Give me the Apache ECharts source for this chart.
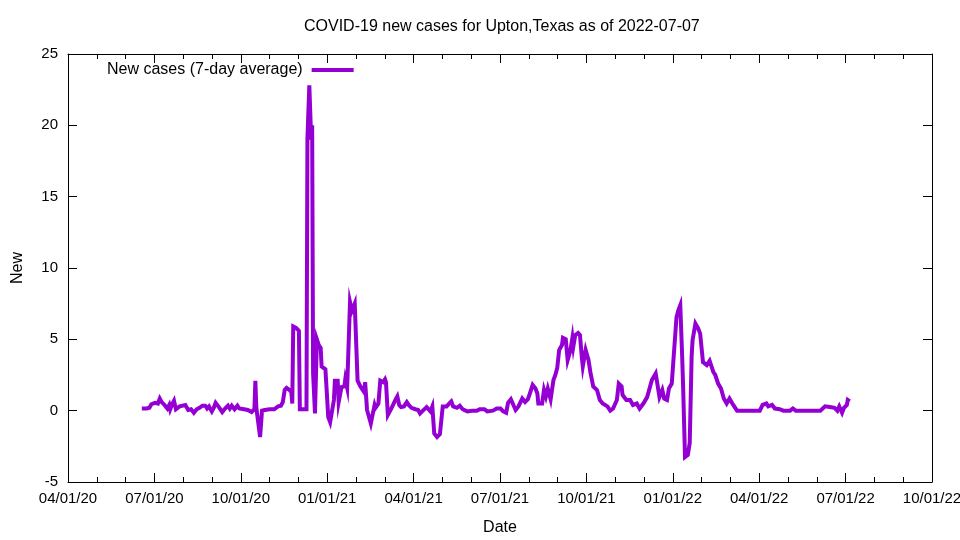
<!DOCTYPE html>
<html>
<head>
<meta charset="utf-8">
<script src="https://cdn.jsdelivr.net/npm/echarts@6/dist/echarts.min.js"></script>
<style>html,body{margin:0;padding:0;background:#fff}#c{width:960px;height:540px}</style>
</head>
<body>
<div id="c"></div>
<script>
const titleText = 'COVID-19 new cases for Upton,Texas as of 2022-07-07';
const seriesName = 'New cases (7-day average)';
const xTickLabels = ['04/01/20','07/01/20','10/01/20','01/01/21','04/01/21','07/01/21','10/01/21','01/01/22','04/01/22','07/01/22','10/01/22'];
const axisStart = '2020-04-01';
const axisEnd = '2022-10-01';
const dates = [
'2020-06-18','2020-06-23','2020-06-26','2020-06-28','2020-07-02','2020-07-05','2020-07-07','2020-07-09','2020-07-12','2020-07-15',
'2020-07-17','2020-07-18','2020-07-20','2020-07-22','2020-07-24','2020-07-26','2020-07-28','2020-07-30','2020-08-03','2020-08-06',
'2020-08-09','2020-08-12','2020-08-15','2020-08-18','2020-08-21','2020-08-24','2020-08-26','2020-08-28','2020-08-31','2020-09-02',
'2020-09-04','2020-09-08','2020-09-11','2020-09-14','2020-09-17','2020-09-19','2020-09-21','2020-09-24','2020-09-27','2020-09-29',
'2020-10-01','2020-10-04','2020-10-08','2020-10-12','2020-10-15','2020-10-16','2020-10-17','2020-10-19','2020-10-21','2020-10-23',
'2020-10-26','2020-10-31','2020-11-05','2020-11-09','2020-11-12','2020-11-14','2020-11-16','2020-11-18','2020-11-21','2020-11-23',
'2020-11-24','2020-11-25','2020-11-28','2020-12-01','2020-12-02','2020-12-09','2020-12-10','2020-12-12','2020-12-14','2020-12-15',
'2020-12-16','2020-12-18','2020-12-20','2020-12-22','2020-12-24','2020-12-25','2020-12-29','2020-12-30','2021-01-01','2021-01-03',
'2021-01-05','2021-01-07','2021-01-08','2021-01-11','2021-01-12','2021-01-15','2021-01-18','2021-01-19','2021-01-21','2021-01-23',
'2021-01-24','2021-01-26','2021-01-29','2021-01-31','2021-02-01','2021-02-04','2021-02-06','2021-02-08','2021-02-09','2021-02-11',
'2021-02-13','2021-02-15','2021-02-17','2021-02-19','2021-02-20','2021-02-23','2021-02-25','2021-02-28','2021-03-02','2021-03-03',
'2021-03-05','2021-03-07','2021-03-09','2021-03-13','2021-03-15','2021-03-17','2021-03-19','2021-03-22','2021-03-25','2021-03-27',
'2021-03-30','2021-04-03','2021-04-06','2021-04-08','2021-04-11','2021-04-15','2021-04-19','2021-04-21','2021-04-23','2021-04-26',
'2021-04-29','2021-05-01','2021-05-02','2021-05-06','2021-05-11','2021-05-13','2021-05-17','2021-05-20','2021-05-23','2021-05-28',
'2021-06-02','2021-06-07','2021-06-10','2021-06-15','2021-06-18','2021-06-24','2021-06-28','2021-07-02','2021-07-05','2021-07-08',
'2021-07-10','2021-07-13','2021-07-15','2021-07-18','2021-07-21','2021-07-25','2021-07-28','2021-07-31','2021-08-02','2021-08-05',
'2021-08-08','2021-08-10','2021-08-11','2021-08-15','2021-08-17','2021-08-19','2021-08-21','2021-08-24','2021-08-27','2021-08-29',
'2021-08-31','2021-09-02','2021-09-05','2021-09-06','2021-09-09','2021-09-11','2021-09-14','2021-09-16','2021-09-17','2021-09-19',
'2021-09-22','2021-09-24','2021-09-26','2021-09-27','2021-09-30','2021-10-03','2021-10-05','2021-10-08','2021-10-12','2021-10-15',
'2021-10-18','2021-10-23','2021-10-26','2021-10-29','2021-11-02','2021-11-04','2021-11-07','2021-11-08','2021-11-12','2021-11-14',
'2021-11-16','2021-11-19','2021-11-21','2021-11-23','2021-11-26','2021-11-30','2021-12-04','2021-12-06','2021-12-09','2021-12-11',
'2021-12-13','2021-12-14','2021-12-17','2021-12-20','2021-12-22','2021-12-25','2021-12-27','2021-12-30','2022-01-01','2022-01-04',
'2022-01-06','2022-01-08','2022-01-10','2022-01-11','2022-01-13','2022-01-16','2022-01-18','2022-01-20','2022-01-21','2022-01-24',
'2022-01-26','2022-01-27','2022-01-29','2022-02-01','2022-02-03','2022-02-05','2022-02-08','2022-02-12','2022-02-14','2022-02-17',
'2022-02-20','2022-02-23','2022-02-26','2022-03-01','2022-03-04','2022-03-06','2022-03-09','2022-04-02','2022-04-05','2022-04-09',
'2022-04-11','2022-04-15','2022-04-18','2022-04-23','2022-04-27','2022-05-04','2022-05-07','2022-05-10','2022-06-05','2022-06-10',
'2022-06-15','2022-06-20','2022-06-23','2022-06-25','2022-06-28','2022-06-30','2022-07-03','2022-07-04','2022-07-06'
];
const newCases = [
0.15,0.15,0.2,0.45,0.55,0.5,0.85,0.6,0.4,0.15,
0.4,0.1,0.45,0.7,0.1,0.0,0.3,0.4,0.4,0.05,
0.1,-0.15,0.1,0.2,0.35,0.35,0.15,0.3,-0.05,0.2,
0.55,0.2,-0.1,0.15,0.35,0.15,0.35,0.1,0.35,0.15,
0.25,0.1,0.05,-0.1,0.1,2.1,0.2,0.2,-1.85,0.0,
0.05,0.1,0.1,0.3,0.35,0.6,1.45,1.6,1.45,1.3,
0.5,5.9,5.8,5.6,0.1,0.1,19.0,22.8,19.0,20.0,
2.6,-0.2,5.0,4.6,4.4,3.1,2.9,1.8,-0.45,-0.8,
-0.75,0.75,2.1,2.1,0.6,1.65,1.7,2.2,1.6,1.6,
7.6,7.0,7.5,7.4,2.1,1.7,1.6,1.3,2.0,0.05,
0.0,-0.9,-0.85,0.4,0.2,0.5,2.1,2.0,2.2,2.0,
-0.3,-0.4,0.2,0.75,1.0,0.4,0.25,0.3,0.6,0.4,
0.2,0.1,0.05,-0.2,0.0,0.25,-0.05,0.3,-1.6,-1.85,
-1.65,-1.55,0.3,0.3,0.65,0.3,0.2,0.35,0.1,-0.05,
0.0,0.0,0.1,0.1,-0.05,0.0,0.15,0.15,-0.05,-0.15,
0.55,0.8,0.75,0.05,0.3,0.85,0.6,0.8,1.2,1.8,
1.55,1.2,0.5,0.5,1.45,1.0,1.55,0.8,2.15,2.5,
3.0,4.25,4.6,5.1,5.0,3.55,4.25,5.1,4.5,5.3,
5.45,5.3,3.7,3.1,4.25,3.55,2.7,1.7,1.45,0.75,
0.5,0.3,0.0,0.15,0.75,1.9,1.7,1.1,0.75,0.85,
0.75,0.4,0.35,0.5,0.15,0.5,0.95,0.85,2.15,2.15,
2.6,2.2,0.95,1.45,0.85,0.75,1.55,1.9,1.9,6.55,
7.05,7.4,3.8,1.7,-3.25,-3.1,-2.25,3.8,4.95,6.1,
6.0,5.75,5.4,3.4,3.5,3.2,3.5,2.7,2.5,1.9,
1.55,0.85,0.5,0.85,0.5,0.3,0.0,0.0,0.4,0.5,
0.3,0.4,0.15,0.1,0.0,0.0,0.15,0.0,0.0,0.3,
0.25,0.2,0.0,0.3,-0.15,0.2,0.4,0.75,0.65
];
const yMin = -5, yMax = 25, yStep = 5;

const DAY = 86400000;
const toDay = s => Math.round((Date.parse(s) - Date.parse(axisStart)) / DAY);
const xMax = toDay(axisEnd);
const xStep = xMax / (xTickLabels.length - 1);
const seriesData = dates.map((d, i) => [toDay(d), newCases[i]]);

const FONT = 'Liberation Sans';
const tickCommon = {show: true, inside: true, length: 9, lineStyle: {color: '#000', width: 1}};
const minorCommon = {show: true, splitNumber: 3, length: 5, lineStyle: {color: '#000', width: 1}};
const lineCommon = {show: true, onZero: false, lineStyle: {color: '#000', width: 1}};

const chart = echarts.init(document.getElementById('c'), null, {renderer: 'canvas'});
chart.setOption({
  animation: false,
  backgroundColor: '#fff',
  title: {
    text: titleText, left: 304, top: 19, padding: 0,
    textStyle: {fontFamily: FONT, fontSize: 16, fontWeight: 'normal', color: '#000'}
  },
  legend: {
    left: 107, top: 62, padding: 0, align: 'right',
    itemWidth: 42, itemHeight: 4, icon: 'rect',
    textStyle: {fontFamily: FONT, fontSize: 16, color: '#000', padding: [0, 4, 0, 0]},
    data: [seriesName]
  },
  grid: {left: 68, right: 28, top: 54, bottom: 58, containLabel: false, outerBoundsMode: 'none'},
  xAxis: [{
    type: 'value', min: 0, max: xMax, interval: xStep,
    name: 'Date', nameLocation: 'middle', nameGap: 38,
    nameTextStyle: {fontFamily: FONT, fontSize: 16, color: '#000'},
    axisLine: lineCommon, axisTick: tickCommon,
    minorTick: minorCommon, splitLine: {show: false},
    axisLabel: {
      fontFamily: FONT, fontSize: 15, color: '#000', margin: 9,
      formatter: v => xTickLabels[Math.round(v / xStep)] || ''
    }
  }, {
    type: 'value', min: 0, max: xMax, interval: xStep, position: 'top',
    axisLine: lineCommon, axisTick: tickCommon,
    minorTick: minorCommon, splitLine: {show: false}, axisLabel: {show: false}
  }],
  yAxis: [{
    type: 'value', min: yMin, max: yMax, interval: yStep,
    name: 'New', nameLocation: 'middle', nameGap: 42, nameRotate: 90,
    nameTextStyle: {fontFamily: FONT, fontSize: 16, color: '#000'},
    axisLine: lineCommon, axisTick: tickCommon, splitLine: {show: false},
    axisLabel: {fontFamily: FONT, fontSize: 15, color: '#000', margin: 10}
  }, {
    type: 'value', min: yMin, max: yMax, interval: yStep, position: 'right',
    axisLine: lineCommon, axisTick: tickCommon, splitLine: {show: false},
    axisLabel: {show: false}
  }],
  series: [{
    name: seriesName, type: 'line', data: seriesData,
    xAxisIndex: 0, yAxisIndex: 0,
    showSymbol: false, symbol: 'none',
    lineStyle: {color: '#9400d3', width: 4, join: 'miter'},
    itemStyle: {color: '#9400d3'}
  }]
});
</script>
</body>
</html>
